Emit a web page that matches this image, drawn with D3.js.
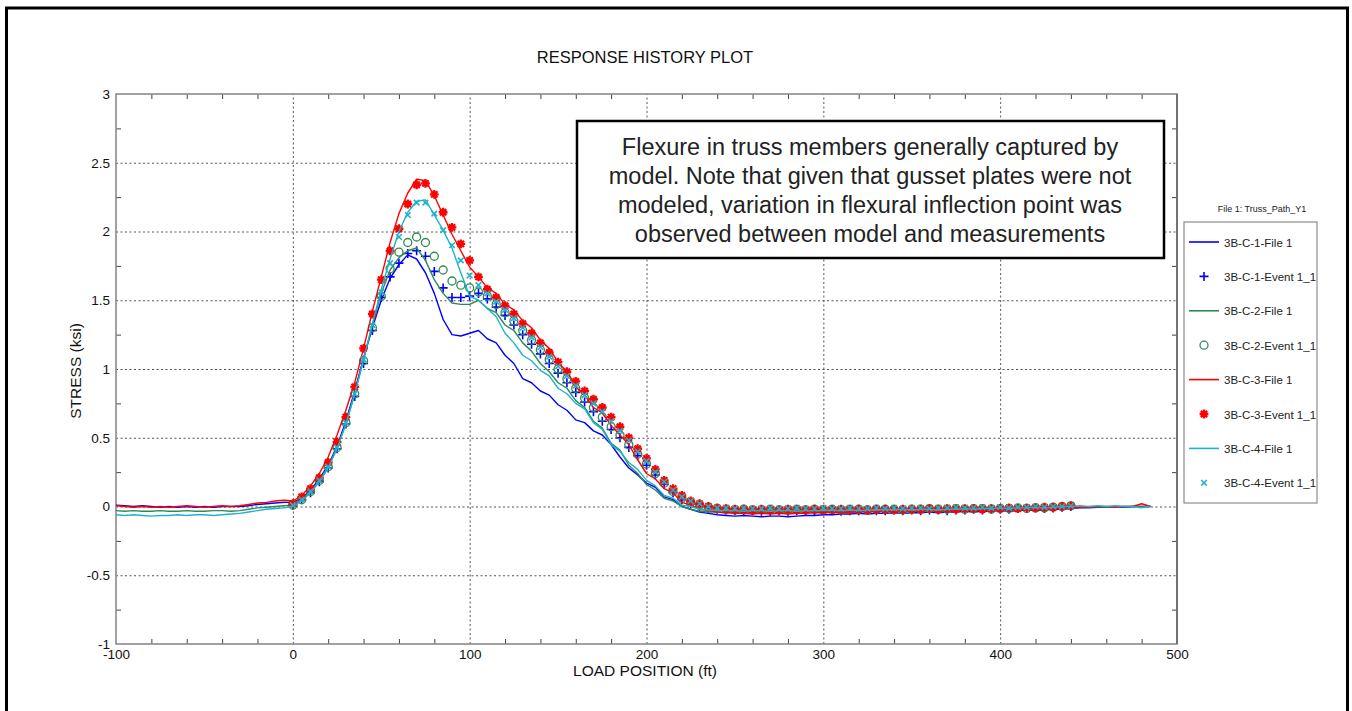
<!DOCTYPE html>
<html>
<head>
<meta charset="utf-8">
<script src="https://cdn.jsdelivr.net/npm/d3@7"></script>
<style>
  body { margin: 0; background: #fff; }
  svg { display: block; }
  text { font-family: Arial, "Liberation Sans", sans-serif; }
</style>
</head>
<body>
<svg id="chart" width="1352" height="711"></svg>
<script>
// ---- Load positions (ft) ----
const modelPositions = d3.range(-100, 490, 5);   // model output, -100 .. 485 ft
const eventPositions = d3.range(0, 445, 5);      // measured event, 0 .. 440 ft

// ---- Model stress (ksi), File 1 ----
const c1File = [
  0.01, 0.005, 0.0, 0.005, 0.0, -0.005, 0.0, -0.005, 0.0, -0.005,
  0.0, -0.005, 0.0, 0.0, 0.0, 0.005, 0.015, 0.02, 0.025, 0.03,
  0.03, 0.06, 0.12, 0.2, 0.3, 0.44, 0.62, 0.84, 1.08, 1.3,
  1.5, 1.66, 1.76, 1.83, 1.8, 1.7, 1.55, 1.36, 1.25, 1.24,
  1.26, 1.28, 1.22, 1.19, 1.10, 1.04, 0.93, 0.90, 0.84, 0.81,
  0.74, 0.70, 0.63, 0.61, 0.55, 0.52, 0.45, 0.36, 0.28, 0.23,
  0.17, 0.14, 0.07, 0.05, 0.0, -0.02, -0.04, -0.05, -0.06, -0.065,
  -0.07, -0.065, -0.07, -0.075, -0.07, -0.07, -0.075, -0.07, -0.065, -0.065,
  -0.06, -0.06, -0.055, -0.055, -0.05, -0.055, -0.05, -0.05, -0.045, -0.05,
  -0.045, -0.045, -0.04, -0.045, -0.04, -0.04, -0.035, -0.04, -0.035, -0.035,
  -0.03, -0.035, -0.03, -0.025, -0.03, -0.025, -0.02, -0.02, -0.015, -0.01,
  -0.01, -0.005, -0.005, 0.0, -0.005, 0.0, 0.0, 0.0
];
const c2File = [
  -0.03, -0.035, -0.03, -0.035, -0.035, -0.03, -0.035, -0.035, -0.03, -0.035,
  -0.035, -0.03, -0.03, -0.035, -0.03, -0.02, -0.01, -0.005, 0.0, 0.005,
  0.01, 0.05, 0.11, 0.19, 0.29, 0.43, 0.6, 0.82, 1.07, 1.32,
  1.55, 1.72, 1.81, 1.86, 1.88, 1.79, 1.65, 1.55, 1.48, 1.47,
  1.47, 1.50, 1.44, 1.41, 1.32, 1.28, 1.19, 1.13, 1.04, 0.98,
  0.90, 0.86, 0.77, 0.72, 0.62, 0.57, 0.46, 0.41, 0.30, 0.24,
  0.16, 0.12, 0.06, 0.04, 0.0, -0.02, -0.035, -0.04, -0.04, -0.045,
  -0.04, -0.045, -0.04, -0.045, -0.04, -0.04, -0.045, -0.04, -0.04, -0.04,
  -0.035, -0.04, -0.035, -0.035, -0.04, -0.035, -0.035, -0.03, -0.035, -0.03,
  -0.035, -0.03, -0.03, -0.03, -0.025, -0.03, -0.025, -0.03, -0.025, -0.025,
  -0.02, -0.025, -0.02, -0.02, -0.015, -0.02, -0.015, -0.01, -0.01, -0.005,
  -0.005, 0.0, -0.005, 0.0, 0.0, 0.0, 0.0, 0.0
];
const c3File = [
  0.005, 0.0, -0.005, 0.0, -0.005, 0.0, -0.005, 0.0, 0.005, 0.0,
  -0.005, 0.0, 0.005, 0.0, 0.005, 0.015, 0.025, 0.03, 0.04, 0.045,
  0.04, 0.08, 0.15, 0.24, 0.36, 0.52, 0.7, 0.9, 1.15, 1.42,
  1.67, 1.92, 2.13, 2.28, 2.38, 2.37, 2.26, 2.12, 1.98, 1.86,
  1.74, 1.67, 1.59, 1.55, 1.47, 1.43, 1.35, 1.30, 1.21, 1.15,
  1.05, 0.98, 0.87, 0.81, 0.72, 0.68, 0.59, 0.52, 0.45, 0.34,
  0.24, 0.20, 0.13, 0.10, 0.03, 0.01, -0.02, -0.03, -0.04, -0.045,
  -0.05, -0.05, -0.055, -0.05, -0.055, -0.05, -0.055, -0.05, -0.05, -0.045,
  -0.045, -0.04, -0.045, -0.04, -0.04, -0.035, -0.04, -0.035, -0.035, -0.03,
  -0.035, -0.03, -0.03, -0.035, -0.03, -0.03, -0.025, -0.03, -0.025, -0.025,
  -0.02, -0.025, -0.02, -0.02, -0.015, -0.02, -0.015, -0.01, -0.01, -0.005,
  -0.005, 0.0, 0.0, -0.005, 0.0, 0.0, 0.02, 0.0
];
const c4File = [
  -0.06, -0.065, -0.06, -0.065, -0.07, -0.065, -0.065, -0.06, -0.065, -0.06,
  -0.06, -0.065, -0.06, -0.055, -0.05, -0.04, -0.03, -0.02, -0.015, -0.01,
  0.0, 0.04, 0.1, 0.18, 0.28, 0.42, 0.6, 0.82, 1.07, 1.33,
  1.58, 1.8, 2.0, 2.14, 2.22, 2.23, 2.12, 2.01, 1.88, 1.7,
  1.53, 1.50, 1.44, 1.38, 1.26, 1.19, 1.10, 1.06, 0.99, 0.95,
  0.86, 0.82, 0.75, 0.71, 0.61, 0.56, 0.45, 0.40, 0.32, 0.27,
  0.19, 0.15, 0.08, 0.06, 0.01, 0.0, -0.02, -0.025, -0.03, -0.03,
  -0.03, -0.035, -0.03, -0.03, -0.035, -0.03, -0.03, -0.035, -0.03, -0.03,
  -0.03, -0.025, -0.03, -0.025, -0.03, -0.025, -0.025, -0.02, -0.025, -0.02,
  -0.025, -0.02, -0.02, -0.025, -0.02, -0.02, -0.015, -0.02, -0.015, -0.015,
  -0.01, -0.015, -0.01, -0.01, -0.005, -0.01, -0.005, 0.0, 0.0, 0.005,
  0.0, 0.005, 0.0, 0.005, 0.0, 0.0, -0.01, 0.005
];

// ---- Measured stress (ksi), Event 1_1 ----
const c1Event = [
  0.01, 0.05, 0.1, 0.18, 0.28, 0.42, 0.6, 0.8, 1.04, 1.28,
  1.52, 1.67, 1.77, 1.84, 1.86, 1.82, 1.71, 1.59, 1.52, 1.52,
  1.53, 1.55, 1.51, 1.45, 1.39, 1.32, 1.25, 1.18, 1.11, 1.04,
  0.97, 0.9, 0.83, 0.76, 0.69, 0.62, 0.56, 0.5, 0.43, 0.37,
  0.3, 0.23, 0.16, 0.1, 0.05, 0.02, 0.0, -0.015, -0.02, -0.025,
  -0.03, -0.035, -0.03, -0.035, -0.035, -0.03, -0.035, -0.03, -0.03, -0.035,
  -0.03, -0.03, -0.035, -0.03, -0.03, -0.025, -0.03, -0.03, -0.025, -0.03,
  -0.025, -0.03, -0.025, -0.025, -0.03, -0.025, -0.025, -0.02, -0.025, -0.02,
  -0.02, -0.02, -0.015, -0.015, -0.01, -0.015, -0.01, -0.005, 0.0
];
const c2Event = [
  0.01, 0.05, 0.11, 0.19, 0.29, 0.43, 0.61, 0.82, 1.06, 1.3,
  1.53, 1.73, 1.85, 1.92, 1.96, 1.92, 1.82, 1.72, 1.64, 1.61,
  1.59, 1.56, 1.53, 1.47, 1.41, 1.35, 1.28, 1.21, 1.14, 1.07,
  1.0, 0.93, 0.86, 0.79, 0.72, 0.65, 0.58, 0.52, 0.45, 0.38,
  0.31, 0.24, 0.17, 0.11, 0.06, 0.03, 0.01, -0.005, -0.015, -0.02,
  -0.025, -0.02, -0.025, -0.025, -0.02, -0.025, -0.025, -0.02, -0.025, -0.02,
  -0.025, -0.02, -0.025, -0.02, -0.02, -0.025, -0.02, -0.02, -0.02, -0.025,
  -0.02, -0.02, -0.015, -0.02, -0.02, -0.015, -0.02, -0.015, -0.015, -0.02,
  -0.015, -0.015, -0.01, -0.015, -0.01, -0.01, -0.005, 0.0, 0.005
];
const c3Event = [
  0.02, 0.07, 0.13, 0.21, 0.32, 0.47, 0.65, 0.87, 1.15, 1.4,
  1.65, 1.86, 2.02, 2.2, 2.34, 2.35, 2.27, 2.14, 2.03, 1.91,
  1.79, 1.67, 1.58, 1.52, 1.46, 1.4, 1.33, 1.26, 1.19, 1.12,
  1.05, 0.98, 0.91, 0.84, 0.78, 0.72, 0.65, 0.58, 0.5, 0.42,
  0.35, 0.27, 0.19, 0.13, 0.08, 0.04, 0.02, 0.0, -0.01, -0.015,
  -0.02, -0.02, -0.025, -0.02, -0.025, -0.025, -0.02, -0.025, -0.025, -0.02,
  -0.025, -0.025, -0.02, -0.025, -0.02, -0.025, -0.02, -0.02, -0.025, -0.02,
  -0.02, -0.02, -0.015, -0.02, -0.015, -0.02, -0.015, -0.015, -0.02, -0.015,
  -0.015, -0.01, -0.015, -0.01, -0.01, -0.005, -0.005, 0.0, 0.005
];
const c4Event = [
  0.01, 0.05, 0.11, 0.19, 0.29, 0.43, 0.61, 0.82, 1.07, 1.32,
  1.56, 1.77, 1.96, 2.12, 2.21, 2.21, 2.13, 2.01, 1.9, 1.79,
  1.68, 1.61, 1.55, 1.49, 1.43, 1.37, 1.3, 1.23, 1.16, 1.09,
  1.02, 0.95, 0.88, 0.81, 0.75, 0.69, 0.62, 0.55, 0.48, 0.4,
  0.33, 0.25, 0.18, 0.12, 0.07, 0.04, 0.02, 0.0, -0.01, -0.01,
  -0.015, -0.01, -0.015, -0.015, -0.01, -0.015, -0.015, -0.01, -0.015, -0.015,
  -0.01, -0.015, -0.015, -0.01, -0.015, -0.015, -0.01, -0.015, -0.01, -0.015,
  -0.01, -0.01, -0.015, -0.01, -0.01, -0.005, -0.01, -0.01, -0.005, -0.01,
  -0.005, -0.01, -0.005, -0.005, 0.0, -0.005, 0.0, 0.0, 0.005
];

// ---- Axis ticks ----
const xMajorTicks = [-100, 0, 100, 200, 300, 400, 500];
const xTickLabels = ["-100", "0", "100", "200", "300", "400", "500"];
const yMajorTicks = [-1, -0.5, 0, 0.5, 1, 1.5, 2, 2.5, 3];
const yTickLabels = ["-1", "-0.5", "0", "0.5", "1", "1.5", "2", "2.5", "3"];

// ---- Series / legend ----
const seriesNames = ["3B-C-1-File 1", "3B-C-1-Event 1_1", "3B-C-2-File 1", "3B-C-2-Event 1_1",
                     "3B-C-3-File 1", "3B-C-3-Event 1_1", "3B-C-4-File 1", "3B-C-4-Event 1_1"];
const legendTitle = "File 1: Truss_Path_Y1";
const noteLines = [
  "Flexure in truss members generally captured by",
  "model. Note that given that gusset plates were not",
  "modeled, variation in flexural inflection point was",
  "observed between model and measurements"
];

const colors = { c1: "#0000ff", c2: "#2e8b57", c3: "#ff0000", c4: "#1fb3cb" };

const series = [
  { name: seriesNames[0], kind: "line", x: modelPositions, y: c1File, color: colors.c1 },
  { name: seriesNames[1], kind: "plus", x: eventPositions, y: c1Event, color: colors.c1 },
  { name: seriesNames[2], kind: "line", x: modelPositions, y: c2File, color: colors.c2 },
  { name: seriesNames[3], kind: "circle", x: eventPositions, y: c2Event, color: colors.c2 },
  { name: seriesNames[4], kind: "line", x: modelPositions, y: c3File, color: colors.c3 },
  { name: seriesNames[5], kind: "star", x: eventPositions, y: c3Event, color: colors.c3 },
  { name: seriesNames[6], kind: "line", x: modelPositions, y: c4File, color: colors.c4 },
  { name: seriesNames[7], kind: "cross", x: eventPositions, y: c4Event, color: colors.c4 }
];

// ---- Layout ----
const svg = d3.select("#chart");
const plot = { left: 116, top: 94, right: 1177, bottom: 644 };
const x = d3.scaleLinear().domain([-100, 500]).range([plot.left, plot.right]);
const y = d3.scaleLinear().domain([-1, 3]).range([plot.bottom, plot.top]);
const pw = plot.right - plot.left, ph = plot.bottom - plot.top;

// page frame
const frame = svg.append("g").attr("stroke", "#000").attr("stroke-width", 3);
frame.append("line").attr("x1", 5).attr("x2", 1349).attr("y1", 8).attr("y2", 8);
frame.append("line").attr("x1", 6.5).attr("x2", 6.5).attr("y1", 7).attr("y2", 711);
frame.append("line").attr("x1", 1347.5).attr("x2", 1347.5).attr("y1", 7).attr("y2", 711);

// title
svg.append("text").attr("x", 645).attr("y", 63).attr("text-anchor", "middle")
  .attr("font-size", 16.5).attr("fill", "#111").text("RESPONSE HISTORY PLOT");

// grid (dotted at major ticks)
const grid = svg.append("g").attr("class", "grid");
grid.append("g").attr("transform", `translate(0,${plot.bottom})`)
  .call(d3.axisBottom(x).tickValues(xMajorTicks.slice(1, -1)).tickSize(-ph).tickFormat(""));
grid.append("g").attr("transform", `translate(${plot.left},0)`)
  .call(d3.axisLeft(y).tickValues(yMajorTicks.slice(1, -1)).tickSize(-pw).tickFormat(""));
grid.selectAll(".domain").remove();
grid.selectAll("line").attr("stroke", "#555").attr("stroke-width", 1).attr("stroke-dasharray", "2,2.5");

// minor ticks on all four sides, pointing inward
const xMinor = d3.range(-80, 500, 20).filter(v => v % 100 !== 0);
const yMinor = d3.range(-0.75, 3, 0.5);
const tickG = svg.append("g").attr("class", "minor");
tickG.append("g").attr("transform", `translate(0,${plot.bottom})`)
  .call(d3.axisBottom(x).tickValues(xMinor).tickSize(-5).tickFormat(""));
tickG.append("g").attr("transform", `translate(0,${plot.top})`)
  .call(d3.axisTop(x).tickValues(xMinor).tickSize(-5).tickFormat(""));
tickG.append("g").attr("transform", `translate(${plot.left},0)`)
  .call(d3.axisLeft(y).tickValues(yMinor).tickSize(-5).tickFormat(""));
tickG.append("g").attr("transform", `translate(${plot.right},0)`)
  .call(d3.axisRight(y).tickValues(yMinor).tickSize(-5).tickFormat(""));
tickG.selectAll(".domain").remove();
tickG.selectAll("line").attr("stroke", "#444").attr("stroke-width", 1);

// plot box
svg.append("rect").attr("x", plot.left).attr("y", plot.top).attr("width", pw).attr("height", ph)
  .attr("fill", "none").attr("stroke", "#8a8a8a").attr("stroke-width", 1.6);
svg.append("line").attr("x1", plot.right).attr("x2", plot.right).attr("y1", plot.top).attr("y2", plot.bottom)
  .attr("stroke", "#555").attr("stroke-width", 1.2);

// tick labels
const xLab = svg.append("g").attr("transform", `translate(0,${plot.bottom})`)
  .call(d3.axisBottom(x).tickValues(xMajorTicks).tickSize(0).tickPadding(5)
    .tickFormat((d, i) => xTickLabels[i]));
const yLab = svg.append("g").attr("transform", `translate(${plot.left},0)`)
  .call(d3.axisLeft(y).tickValues(yMajorTicks).tickSize(0).tickPadding(6)
    .tickFormat((d, i) => yTickLabels[i]));
[xLab, yLab].forEach(g => {
  g.select(".domain").remove();
  g.selectAll("text").attr("font-size", 13.5).attr("fill", "#111")
    .attr("font-family", "Arial, 'Liberation Sans', sans-serif");
});

// axis titles
svg.append("text").attr("x", 645).attr("y", 676).attr("text-anchor", "middle")
  .attr("font-size", 15.5).attr("fill", "#111").text("LOAD POSITION (ft)");
svg.append("text").attr("transform", "translate(81,371) rotate(-90)").attr("text-anchor", "middle")
  .attr("font-size", 15.5).attr("fill", "#111").text("STRESS (ksi)");

// data
svg.append("clipPath").attr("id", "plotClip").append("rect")
  .attr("x", plot.left).attr("y", plot.top).attr("width", pw).attr("height", ph);
const dataG = svg.append("g").attr("clip-path", "url(#plotClip)");

const markerPath = {
  plus: s => `M${-s},0H${s}M0,${-s}V${s}`,
  cross: s => `M${-s},${-s}L${s},${s}M${-s},${s}L${s},${-s}`,
  star: s => { const d = s * 0.72; return `M${-s},0H${s}M0,${-s}V${s}M${-d},${-d}L${d},${d}M${-d},${d}L${d},${-d}`; }
};
function drawMarker(sel, kind, color) {
  if (kind === "circle") {
    sel.append("circle").attr("r", 4).attr("fill", "none").attr("stroke", color).attr("stroke-width", 1.3);
  } else if (kind === "plus") {
    sel.append("path").attr("d", markerPath.plus(4.5)).attr("stroke", color).attr("stroke-width", 1.6).attr("fill", "none");
  } else if (kind === "cross") {
    sel.append("path").attr("d", markerPath.cross(2.8)).attr("stroke", color).attr("stroke-width", 1.6).attr("fill", "none");
  } else if (kind === "star") {
    sel.append("path").attr("d", markerPath.star(4.4)).attr("stroke", color).attr("stroke-width", 2.3).attr("fill", "none");
  }
}

const lineGen = d3.line().x(d => x(d[0])).y(d => y(d[1]));
series.forEach(s => {
  const pts = s.x.map((v, i) => [v, s.y[i]]);
  if (s.kind === "line") {
    dataG.append("path").datum(pts).attr("d", lineGen)
      .attr("fill", "none").attr("stroke", s.color).attr("stroke-width", 1.4)
      .attr("stroke-linejoin", "round");
  } else {
    dataG.append("g").selectAll("g").data(pts).join("g")
      .attr("transform", d => `translate(${x(d[0])},${y(d[1])})`)
      .each(function () { drawMarker(d3.select(this), s.kind, s.color); });
  }
});

// annotation box
const note = svg.append("g");
note.append("rect").attr("x", 577).attr("y", 121).attr("width", 587).attr("height", 137)
  .attr("fill", "#fff").attr("stroke", "#000").attr("stroke-width", 2.5);
note.selectAll("text").data(noteLines).join("text")
  .attr("x", 870).attr("y", (d, i) => 155 + i * 29).attr("text-anchor", "middle")
  .attr("font-family", "Lato, 'Open Sans', sans-serif").attr("font-weight", 300)
  .attr("font-size", 23.5).attr("fill", "#222").text(d => d);

// legend
const lg = svg.append("g");
lg.append("text").attr("x", 1262).attr("y", 212).attr("text-anchor", "middle")
  .attr("font-size", 9).attr("fill", "#222").text(legendTitle);
lg.append("rect").attr("x", 1184).attr("y", 222).attr("width", 133).attr("height", 281)
  .attr("fill", "#fff").attr("stroke", "#777").attr("stroke-width", 1);
const items = lg.selectAll("g.item").data(series).join("g").attr("class", "item")
  .attr("transform", (d, i) => `translate(0,${242 + i * 34.4})`);
items.each(function (s) {
  const g = d3.select(this);
  if (s.kind === "line") {
    g.append("line").attr("x1", 1189).attr("x2", 1219).attr("y1", 0).attr("y2", 0)
      .attr("stroke", s.color).attr("stroke-width", 1.6);
  } else {
    const m = g.append("g").attr("transform", "translate(1204,0)");
    drawMarker(m, s.kind, s.color);
  }
  g.append("text").attr("x", 1224).attr("y", 4.5).attr("font-size", 11.5).attr("fill", "#222").text(s.name);
});
</script>
</body>
</html>
